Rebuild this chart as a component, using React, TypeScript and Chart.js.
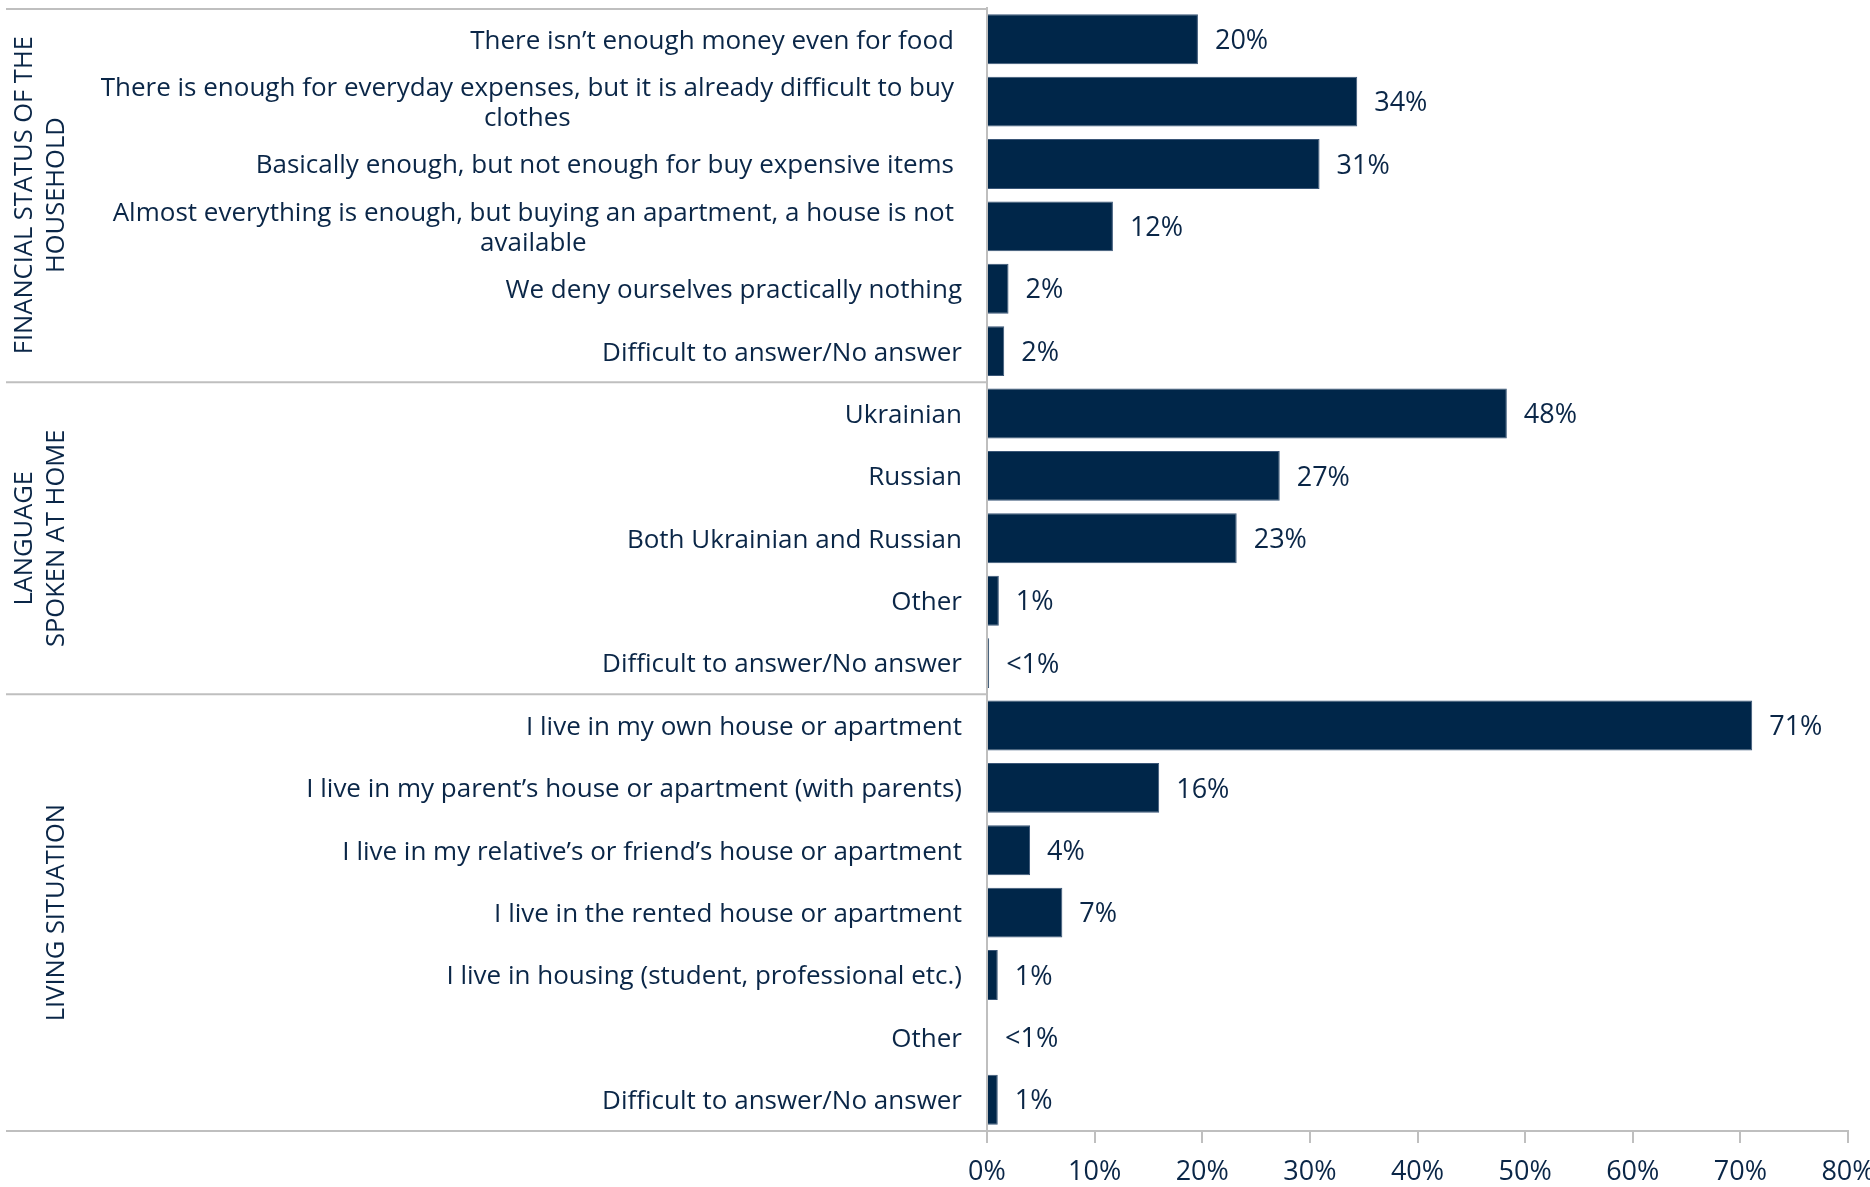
import React, { useEffect, useRef } from 'react';
import { Chart, registerables } from 'chart.js';

Chart.register(...registerables);

// ---------- DATA ----------
const financialLabels: string[][] = [
  ['There isn\u2019t enough money even for food'],
  ['There is enough for everyday expenses, but it is already difficult to buy', 'clothes'],
  ['Basically enough, but not enough for buy expensive items'],
  ['Almost everything is enough, but buying an apartment, a house is not', 'available'],
  ['We deny ourselves practically nothing'],
  ['Difficult to answer/No answer'],
];
const financialValues = [19.6, 34.4, 30.9, 11.7, 2.0, 1.6];
const financialText = ['20%', '34%', '31%', '12%', '2%', '2%'];

const languageLabels: string[][] = [
  ['Ukrainian'],
  ['Russian'],
  ['Both Ukrainian and Russian'],
  ['Other'],
  ['Difficult to answer/No answer'],
];
const languageValues = [48.3, 27.2, 23.2, 1.1, 0.2];
const languageText = ['48%', '27%', '23%', '1%', '<1%'];

const livingLabels: string[][] = [
  ['I live in my own house or apartment'],
  ['I live in my parent\u2019s house or apartment (with parents)'],
  ['I live in my relative\u2019s or friend\u2019s house or apartment'],
  ['I live in the rented house or apartment'],
  ['I live in housing (student, professional etc.)'],
  ['Other'],
  ['Difficult to answer/No answer'],
];
const livingValues = [71.1, 16.0, 4.0, 7.0, 1.0, 0.1, 1.0];
const livingText = ['71%', '16%', '4%', '7%', '1%', '<1%', '1%'];

const groupTitles: string[][] = [
  ['FINANCIAL STATUS OF THE', 'HOUSEHOLD'],
  ['LANGUAGE', 'SPOKEN AT HOME'],
  ['LIVING SITUATION'],
];
const groupSizes = [financialLabels.length, languageLabels.length, livingLabels.length];

const xTickValues = [0, 10, 20, 30, 40, 50, 60, 70, 80];

// ---------- STYLE ----------
const NAVY = '#002649';
const TEXT = '#0a2647';
const GRID = '#bfbfbf';
const FONT = '"Open Sans", "Noto Sans", sans-serif';

const allLabels = [...financialLabels, ...languageLabels, ...livingLabels];
const allValues = [...financialValues, ...languageValues, ...livingValues];
const allText = [...financialText, ...languageText, ...livingText];

const overlayPlugin = {
  id: 'overlay',
  afterDraw(chart: any) {
    const { ctx, chartArea } = chart;
    const y = chart.scales.y;
    const left = chartArea.left;
    ctx.save();

    // separator lines
    ctx.strokeStyle = GRID;
    ctx.lineWidth = 2;
    const hline = (yy: number, x2: number) => {
      ctx.beginPath();
      ctx.moveTo(6, yy);
      ctx.lineTo(x2, yy);
      ctx.stroke();
    };
    hline(chartArea.top + 1, left);
    let idx = 0;
    const bounds: number[] = [chartArea.top];
    groupSizes.forEach((n, g) => {
      idx += n;
      if (g < groupSizes.length - 1) {
        const yy = (y.getPixelForValue(idx - 1) + y.getPixelForValue(idx)) / 2;
        hline(yy, left);
        bounds.push(yy);
      }
    });
    bounds.push(chartArea.bottom);
    hline(chartArea.bottom, left);

    // category labels
    ctx.fillStyle = TEXT;
    ctx.font = `26px ${FONT}`;
    ctx.textBaseline = 'middle';
    ctx.textAlign = 'center';
    allLabels.forEach((lines, i) => {
      const cy = y.getPixelForValue(i) + 2;
      const rightEdge = i < 4 ? left - 33 : left - 25;
      const maxW = Math.max(...lines.map((l) => ctx.measureText(l).width));
      const cx = rightEdge - maxW / 2;
      const lh = 30;
      lines.forEach((l, j) => {
        ctx.fillText(l, cx, cy + (j - (lines.length - 1) / 2) * lh);
      });
    });

    // group titles
    ctx.font = `25.5px ${FONT}`;
    groupTitles.forEach((lines, g) => {
      const cy = (bounds[g] + bounds[g + 1]) / 2;
      lines.forEach((l, j) => {
        const cx = 57 - (lines.length - 1 - j) * 32;
        ctx.save();
        ctx.translate(cx, cy);
        ctx.rotate(-Math.PI / 2);
        ctx.textAlign = 'center';
        ctx.textBaseline = 'middle';
        ctx.fillText(l, 0, 0);
        ctx.restore();
      });
    });

    // value labels
    ctx.font = `27px ${FONT}`;
    ctx.textAlign = 'left';
    ctx.textBaseline = 'middle';
    const meta = chart.getDatasetMeta(0);
    meta.data.forEach((bar: any, i: number) => {
      ctx.fillText(allText[i], bar.x + 17, bar.y + 2);
    });

    ctx.restore();
  },
};

export default function App() {
  const ref = useRef<HTMLCanvasElement | null>(null);
  useEffect(() => {
    if (!ref.current) return;
    const chart = new Chart(ref.current, {
      type: 'bar',
      data: {
        labels: allLabels.map((l) => l.join(' ')),
        datasets: [
          {
            data: allValues,
            backgroundColor: NAVY,
            borderColor: '#3a5677',
            borderWidth: 1,
            categoryPercentage: 1,
            barPercentage: 0.8,
          },
        ],
      },
      options: {
        indexAxis: 'y',
        animation: false,
        responsive: false,
        maintainAspectRatio: false,
        layout: { padding: { top: 8, right: 22, left: 0, bottom: 0 } },
        plugins: { legend: { display: false }, tooltip: { enabled: false } },
        scales: {
          x: {
            min: 0,
            max: 80,
            afterBuildTicks: (scale: any) => {
              scale.ticks = xTickValues.map((v) => ({ value: v }));
            },
            afterFit: (scale: any) => {
              scale.height = 56;
              scale.paddingLeft = 0;
              scale.paddingRight = 0;
            },
            grid: {
              drawOnChartArea: false,
              drawTicks: true,
              tickLength: 12,
              color: GRID,
              lineWidth: 2,
            },
            border: { display: true, color: GRID, width: 2 },
            ticks: {
              color: TEXT,
              font: { family: FONT, size: 27 },
              padding: 13,
              maxRotation: 0,
              callback: (v: any) => `${v}%`,
            },
          },
          y: {
            afterFit: (scale: any) => {
              scale.width = 987;
            },
            grid: { display: false },
            border: { display: true, color: GRID, width: 2 },
            ticks: { display: false },
          },
        },
      },
      plugins: [overlayPlugin],
    });
    return () => chart.destroy();
  }, []);
  return (
    <div style={{ position: 'absolute', left: 0, top: 0, width: 1870, height: 1187, background: '#fff' }}>
      <canvas ref={ref} width={1870} height={1187} style={{ width: 1870, height: 1187, display: 'block' }} />
    </div>
  );
}
